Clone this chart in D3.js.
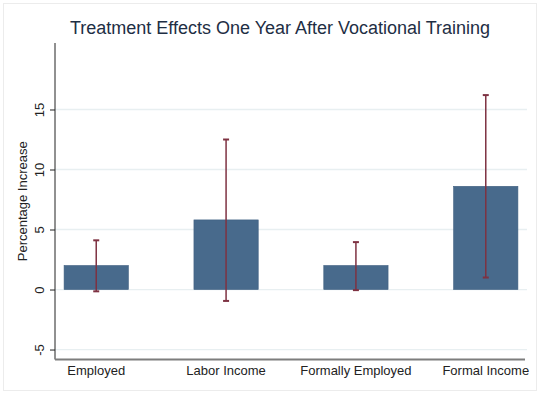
<!DOCTYPE html>
<html>
<head>
  <meta charset="UTF-8">
  <title>Treatment Effects One Year After Vocational Training</title>
  <script src="https://d3js.org/d3.v7.min.js"></script>
  <style>
    body { margin: 0; background: #fff; }
    text { font-family: "Liberation Sans", Arial, sans-serif; }
    .grid-line { stroke: #e8eff1; stroke-width: 1.3; }
  </style>
</head>
<body>
  <svg width="540" height="394"></svg>

  <script>
    const categories = ["Employed", "Labor Income", "Formally Employed", "Formal Income"];
    const effects = [2.0, 5.8, 2.0, 8.6];
    const ciLow = [-0.15, -0.95, -0.05, 1.0];
    const ciHigh = [4.1, 12.5, 3.95, 16.2];
    const yTicks = [-5, 0, 5, 10, 15];

    const data = categories.map((c, i) => ({
      name: c, value: effects[i], lo: ciLow[i], hi: ciHigh[i]
    }));

    const svg = d3.select("svg");
    const plot = { left: 55, right: 527, top: 43, bottom: 359.5 };

    // faint outer frame
    svg.append("rect")
      .attr("x", 3.5).attr("y", 3.5)
      .attr("width", 533).attr("height", 387)
      .attr("fill", "none")
      .attr("stroke", "#ececec");

    const xScale = d3.scaleBand()
      .domain(categories)
      .range([plot.left, plot.right])
      .paddingInner(0.505)
      .paddingOuter(0.07);

    const yScale = d3.scaleLinear()
      .domain([-5.83, 20.54])
      .range([plot.bottom, plot.top]);

    // grid lines
    svg.append("g")
      .selectAll("line")
      .data(yTicks)
      .enter()
      .append("line")
      .attr("class", "grid-line")
      .attr("x1", plot.left)
      .attr("x2", plot.right)
      .attr("y1", d => yScale(d))
      .attr("y2", d => yScale(d));

    // bars
    svg.append("g")
      .selectAll("rect")
      .data(data)
      .enter()
      .append("rect")
      .attr("x", d => xScale(d.name))
      .attr("width", xScale.bandwidth())
      .attr("y", d => yScale(d.value))
      .attr("height", d => yScale(0) - yScale(d.value))
      .attr("fill", "#486a8c")
      .attr("stroke", "#3f5f80")
      .attr("stroke-width", 0.6);

    // error bars
    const errColor = "#7e3242";
    const err = svg.append("g").attr("stroke", errColor).attr("stroke-width", 1.5);
    data.forEach(d => {
      const cx = xScale(d.name) + xScale.bandwidth() / 2;
      err.append("line")
        .attr("x1", cx).attr("x2", cx)
        .attr("y1", yScale(d.hi)).attr("y2", yScale(d.lo));
      [d.hi, d.lo].forEach(v => {
        err.append("line")
          .attr("x1", cx - 3).attr("x2", cx + 3)
          .attr("y1", yScale(v)).attr("y2", yScale(v))
          .attr("stroke-width", 2);
      });
    });

    // y axis
    const yAxis = svg.append("g")
      .attr("transform", `translate(${plot.left},0)`)
      .call(d3.axisLeft(yScale).tickValues(yTicks).tickFormat(d => String(d)).tickSize(5).tickPadding(4))
      .call(g => g.select(".domain")
        .attr("d", `M0,${plot.bottom}V${plot.top}`)
        .attr("stroke", "#222"));
    yAxis.selectAll(".tick line").attr("stroke", "#222");
    yAxis.selectAll(".tick text")
      .attr("font-size", 13)
      .attr("fill", "#222")
      .attr("transform", "rotate(-90)")
      .attr("x", 0)
      .attr("y", -11)
      .attr("dy", 0)
      .attr("text-anchor", "middle");

    // x axis
    const xAxis = svg.append("g")
      .attr("transform", `translate(0,${plot.bottom})`)
      .call(d3.axisBottom(xScale).tickSize(0).tickPadding(6))
      .call(g => g.select(".domain")
        .attr("d", `M${plot.left},0H${plot.right - 2}`)
        .attr("stroke", "#7d7d7d")
        .attr("stroke-width", 2));
    xAxis.selectAll(".tick text")
      .attr("font-size", 13)
      .attr("fill", "#222");

    // axis title
    svg.append("text")
      .attr("transform", `translate(27,${(plot.top + plot.bottom) / 2}) rotate(-90)`)
      .attr("text-anchor", "middle")
      .attr("font-size", 13)
      .attr("fill", "#222")
      .text("Percentage Increase");

    // chart title
    svg.append("text")
      .attr("x", 280)
      .attr("y", 34)
      .attr("text-anchor", "middle")
      .attr("font-size", 18)
      .attr("fill", "#1e2e44")
      .text("Treatment Effects One Year After Vocational Training");
  </script>
</body>
</html>
